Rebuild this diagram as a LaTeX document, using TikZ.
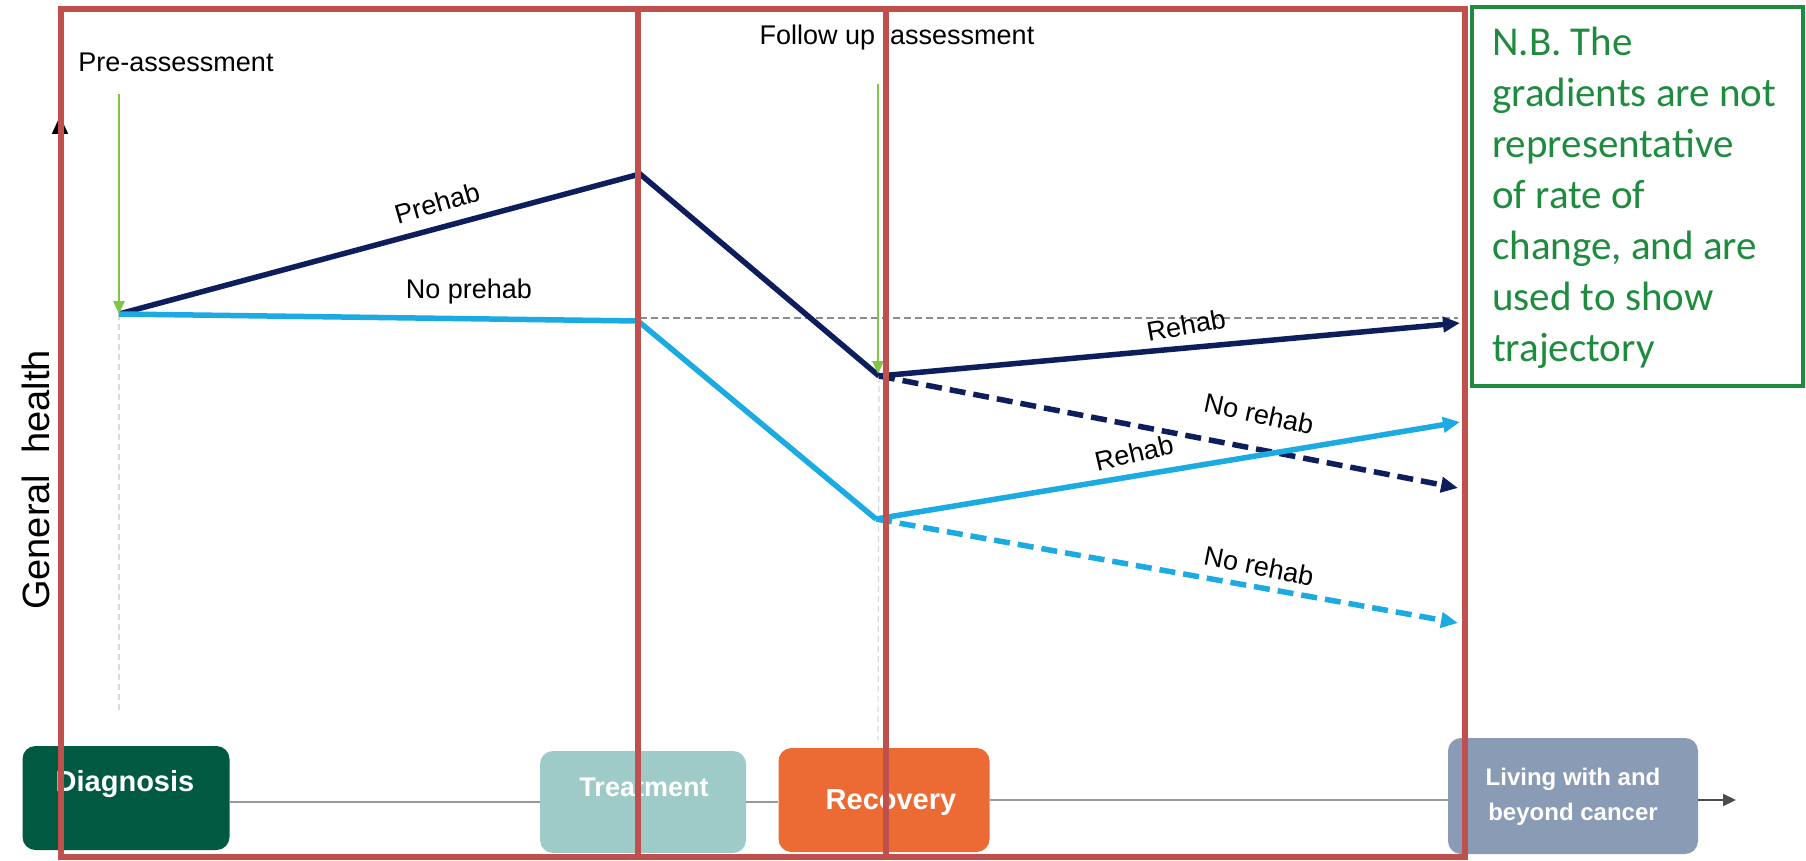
\documentclass[tikz,border=0pt]{standalone}
\usepackage{fontspec}
\setmainfont{Liberation Sans}
\newfontfamily\calibrifont{Carlito}
\usetikzlibrary{arrows.meta}
\definecolor{navyc}{RGB}{14,30,92}
\definecolor{lblue}{RGB}{27,170,226}
\definecolor{arrgreen}{RGB}{130,196,70}
\definecolor{redc}{RGB}{192,80,77}
\definecolor{nbgreen}{RGB}{30,139,62}
\definecolor{diagc}{RGB}{0,90,66}
\definecolor{treatc}{RGB}{158,203,200}
\definecolor{recc}{RGB}{236,106,52}
\definecolor{livc}{RGB}{138,155,181}
\begin{document}
\begin{tikzpicture}[x=1pt,y=-1pt,
  lbl/.style={font=\fontsize{27}{32}\selectfont, inner sep=0pt},
  navyline/.style={draw=navyc, line width=5.5pt},
  blueline/.style={draw=lblue, line width=5.5pt},
  dashln/.style={dash pattern=on 16pt off 8pt},
  greenarr/.style={draw=arrgreen, line width=2.8pt, -{Triangle[length=13pt,width=11pt]}},
  bigtip/.style={-{Triangle[length=17pt,width=15pt]}},
  redbox/.style={draw=redc, line width=6pt},
  phasebox/.style={rounded corners=13pt, inner sep=0pt},
  boxtxt/.style={font=\bfseries\fontsize{27}{30}\selectfont, text=white, align=center, inner sep=0pt},
  faint/.style={draw=black!15, line width=1.2pt, dash pattern=on 6pt off 4pt}
]
\useasboundingbox (0,0) rectangle (1806,861);
\fill[white] (0,0) rectangle (1806,861);

% coordinates
\coordinate (p0) at (119,314);
\coordinate (peak) at (640,174);
\coordinate (np) at (638,321);
\coordinate (dk) at (879,376);
\coordinate (lb) at (876,519);
\coordinate (dkR) at (1460,323);
\coordinate (dkN) at (1458,488);
\coordinate (lbR) at (1460,422);
\coordinate (lbN) at (1458,623);
\coordinate (pretop) at (119,94);
\coordinate (futop) at (878,84);
\coordinate (futip) at (878,374);
\coordinate (pbot) at (119,714);
\coordinate (fbot) at (878,740);
\coordinate (hd0) at (640,318);
\coordinate (hd1) at (1458,318);
\coordinate (ax0) at (60,745);
\coordinate (ax1) at (60,116);

% y axis
\draw[black, line width=2pt, -{Triangle[length=18pt,width=16pt]}] (ax0) -- (ax1);
\node[rotate=90, font=\fontsize{38}{44}\selectfont] (ylab) at (36,480) {General\ \ health};

% faint guides
\draw[faint] (p0) -- (pbot);
\draw[faint] (dk) -- (fbot);
\draw[draw=black!45, line width=1.5pt, dash pattern=on 7pt off 4pt] (hd0) -- (hd1);

% header labels
\node[lbl] (pre) at (176,62) {Pre-assessment};
\node[lbl] (fu) at (897,38) {Follow up\ \ assessment};

% trajectories
\draw[navyline] (p0) -- (peak) -- (dk);
\draw[blueline] (p0) -- (np) -- (lb);
\draw[navyline, bigtip] (dk) -- (dkR);
\draw[navyline, dashln, bigtip] (dk) -- (dkN);
\draw[blueline, bigtip] (lb) -- (lbR);
\draw[blueline, dashln, bigtip] (lb) -- (lbN);

% green assessment arrows
\draw[greenarr] (pretop) -- (p0);
\draw[greenarr] (futop) -- (futip);

% trajectory labels
\node[lbl, rotate=16] (lprehab) at (437,203) {Prehab};
\node[lbl] (lnoprehab) at (469,292) {No prehab};
\node[lbl, rotate=10] (lrehab1) at (1186,325) {Rehab};
\node[lbl, rotate=-12] (lnorehab1) at (1259,414) {No rehab};
\node[lbl, rotate=13] (lrehab2) at (1134,453) {Rehab};
\node[lbl, rotate=-11] (lnorehab2) at (1259,566) {No rehab};

% timeline
\node[phasebox, fill=diagc, minimum width=207pt, minimum height=104pt] (diag) at (126,798) {};
\node[phasebox, fill=treatc, minimum width=206pt, minimum height=102pt] (treat) at (643,802) {};
\node[phasebox, fill=recc, minimum width=211pt, minimum height=104pt] (rec) at (884,800) {};
\node[phasebox, fill=livc, minimum width=250pt, minimum height=116pt] (liv) at (1573,796) {};
\coordinate (tend) at (1736,800);
\draw[black!40, line width=2.5pt] (diag.east |- 0,802) -- (treat.west |- 0,802);
\draw[black!40, line width=2.5pt] (treat.east |- 0,802) -- (rec.west |- 0,802);
\draw[black!40, line width=2.5pt] (rec.east |- 0,800) -- (liv.west |- 0,800);
\draw[black!70, line width=2pt, -{Triangle[length=13pt,width=12pt]}] (liv.east |- 0,800) -- (tend);
\node[boxtxt, font=\bfseries\fontsize{29}{32}\selectfont] (diagt) at (125,784) {Diagnosis};
\node[boxtxt] (treatt) at (644,787) {Treatment};
\node[boxtxt, font=\bfseries\fontsize{29}{32}\selectfont] (rect) at (891,803) {Recovery};
\node[boxtxt, font=\bfseries\fontsize{24}{35}\selectfont] (livt) at (1573,797) {Living with and\\beyond cancer};

% red phase rectangles
\draw[redbox] (61,9) rectangle (638,857);
\draw[redbox] (638,9) rectangle (886,857);
\draw[redbox] (886,9) rectangle (1465,857);

% note box
\draw[draw=nbgreen, line width=4pt] (1472,7) rectangle (1803,386);
\node[anchor=base west, inner sep=0pt, align=left, text=nbgreen,
      font=\calibrifont\fontsize{41}{51}\selectfont] (note) at (1492,361)
  {N.B. The\\gradients are not\\representative\\of rate of\\change, and are\\used to show\\trajectory};
\end{tikzpicture}
\end{document}
